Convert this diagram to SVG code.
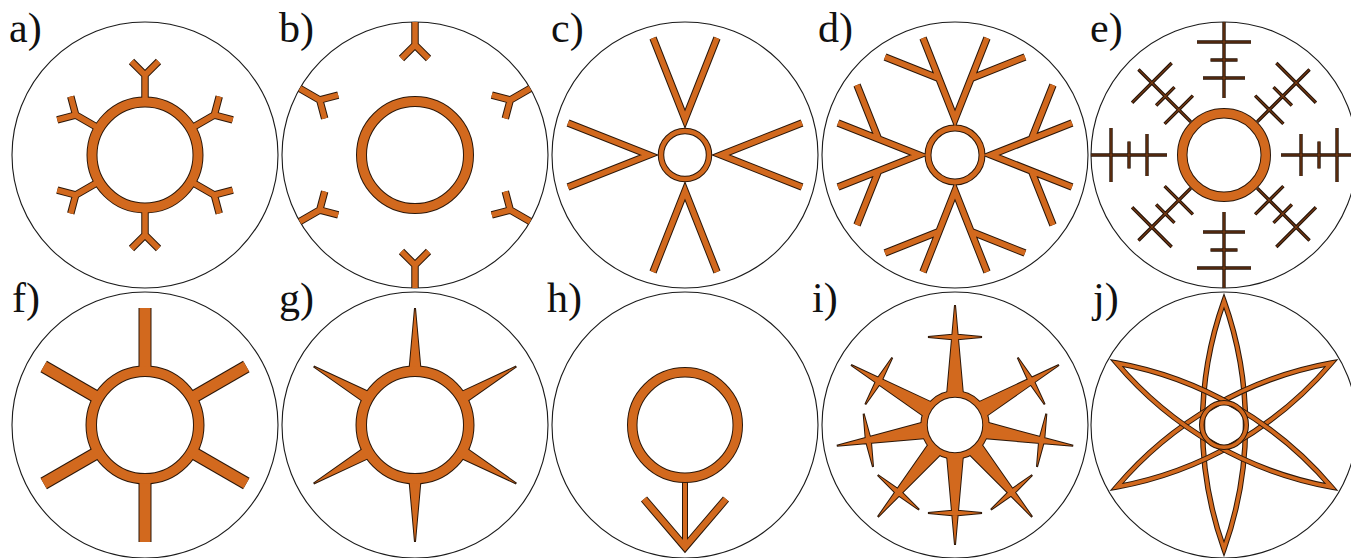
<svg xmlns="http://www.w3.org/2000/svg" xmlns:xlink="http://www.w3.org/1999/xlink" width="1351" height="558" viewBox="0 0 1351 558">
<style>
.frame{fill:none;stroke:#1a1a1a;stroke-width:1.1}
.dk{fill:none;stroke:#2b1709}
.og{fill:none;stroke:#D2691E}
.fdk{fill:#2b1709;stroke:#2b1709;stroke-width:2}
.fog{fill:#D2691E;stroke:none}
.edk{fill:none;stroke:#24140a;stroke-width:3.4}
.ebr{fill:none;stroke:#7b3b12;stroke-width:1.2}
.lbl{font-family:"Liberation Serif",serif;font-size:42px;fill:#111}
</style>
<defs>
<path id="aY" d="M0,-56 V-80 M-13.5,-93.5 L0,-80 L13.5,-93.5"/>
<g id="aYs"><use href="#aY"/><use href="#aY" transform="rotate(60)"/><use href="#aY" transform="rotate(120)"/><use href="#aY" transform="rotate(180)"/><use href="#aY" transform="rotate(240)"/><use href="#aY" transform="rotate(300)"/></g>
<path id="bY" d="M0,-133 V-110 M-13.5,-96.5 L0,-110 L13.5,-96.5"/>
<g id="bYs"><use href="#bY"/><use href="#bY" transform="rotate(60)"/><use href="#bY" transform="rotate(120)"/><use href="#bY" transform="rotate(180)"/><use href="#bY" transform="rotate(240)"/><use href="#bY" transform="rotate(300)"/></g>
<path id="cV" d="M-32,-117 L0,-36 L32,-117"/>
<g id="cVs"><use href="#cV"/><use href="#cV" transform="rotate(90)"/><use href="#cV" transform="rotate(180)"/><use href="#cV" transform="rotate(270)"/></g>
<path id="dV" d="M-32,-117 L0,-36 L32,-117 M-16,-76.5 L-70,-98 M16,-76.5 L70,-98"/>
<g id="dVs"><use href="#dV"/><use href="#dV" transform="rotate(90)"/><use href="#dV" transform="rotate(180)"/><use href="#dV" transform="rotate(270)"/></g>
<path id="eA" d="M0,-57 V-133 M-21,-77 H21 M-13.5,-95 H13.5 M-27,-113 H27"/>
<path id="eD" d="M0,-47 V-121 M-20,-64 H20 M-13,-83 H13 M-28,-102 H28"/>
<g id="eSs"><use href="#eA"/><use href="#eA" transform="rotate(90)"/><use href="#eA" transform="rotate(180)"/><use href="#eA" transform="rotate(270)"/><use href="#eD" transform="rotate(45)"/><use href="#eD" transform="rotate(135)"/><use href="#eD" transform="rotate(225)"/><use href="#eD" transform="rotate(315)"/></g>
<path id="fS" d="M0,-55 V-117"/>
<g id="fSs"><use href="#fS"/><use href="#fS" transform="rotate(60)"/><use href="#fS" transform="rotate(120)"/><use href="#fS" transform="rotate(180)"/><use href="#fS" transform="rotate(240)"/><use href="#fS" transform="rotate(300)"/></g>
<path id="gS" d="M-6,-50 L0,-117 L6,-50 Z"/>
<g id="gSs"><use href="#gS"/><use href="#gS" transform="rotate(60)"/><use href="#gS" transform="rotate(120)"/><use href="#gS" transform="rotate(180)"/><use href="#gS" transform="rotate(240)"/><use href="#gS" transform="rotate(300)"/></g>
<path id="iS" d="M-8,-30 L0,-120 L8,-30 Z M-27,-88 L0,-90.5 L27,-88 L0,-85.5 Z"/>
<g id="iSs"><use href="#iS"/><use href="#iS" transform="rotate(60)"/><use href="#iS" transform="rotate(100)"/><use href="#iS" transform="rotate(140)"/><use href="#iS" transform="rotate(180)"/><use href="#iS" transform="rotate(220)"/><use href="#iS" transform="rotate(260)"/><use href="#iS" transform="rotate(300)"/></g>
<path id="jL" d="M0,-124 A368,368 0 0 1 0,124 A368,368 0 0 1 0,-124 Z"/>
</defs>

<g id="frames">
<circle class="frame" cx="145" cy="155" r="133"/>
<circle class="frame" cx="415" cy="155" r="133"/>
<circle class="frame" cx="685" cy="155" r="133"/>
<circle class="frame" cx="955" cy="155" r="133"/>
<circle class="frame" cx="1224" cy="155" r="133"/>
<circle class="frame" cx="145" cy="425" r="133"/>
<circle class="frame" cx="415" cy="425" r="133"/>
<circle class="frame" cx="685" cy="425" r="133"/>
<circle class="frame" cx="955" cy="425" r="133"/>
<circle class="frame" cx="1224" cy="425" r="133"/>
</g>

<g id="node-a" transform="translate(145 155)">
<use href="#aYs" class="dk" stroke-width="7.5"/>
<circle r="53" class="dk" stroke-width="11"/>
<use href="#aYs" class="og" stroke-width="5.5"/>
<circle r="53" class="og" stroke-width="9"/>
</g>

<g id="node-b" transform="translate(415 155)">
<use href="#bYs" class="dk" stroke-width="7.5"/>
<use href="#bYs" class="og" stroke-width="5.5"/>
<circle r="53.5" class="dk" stroke-width="11"/>
<circle r="53.5" class="og" stroke-width="9"/>
</g>

<g id="node-c" transform="translate(685 155)">
<use href="#cVs" class="dk" stroke-width="7.5"/>
<circle r="24" class="dk" stroke-width="6.5"/>
<use href="#cVs" class="og" stroke-width="5.5"/>
<circle r="24" class="og" stroke-width="4.5"/>
</g>

<g id="node-d" transform="translate(955 155)">
<use href="#dVs" class="dk" stroke-width="7.5"/>
<circle r="27" class="dk" stroke-width="7"/>
<use href="#dVs" class="og" stroke-width="5.5"/>
<circle r="27" class="og" stroke-width="5"/>
</g>

<g id="node-e" transform="translate(1224 155)">
<use href="#eSs" class="edk"/>
<use href="#eSs" class="ebr"/>
<circle r="41.75" class="dk" stroke-width="10.5"/>
<circle r="41.75" class="og" stroke-width="8.5"/>
</g>

<g id="node-f" transform="translate(145 425)">
<use href="#fSs" class="dk" stroke-width="13"/>
<circle r="53.75" class="dk" stroke-width="11.5"/>
<use href="#fSs" class="og" stroke-width="11"/>
<circle r="53.75" class="og" stroke-width="9.5"/>
</g>

<g id="node-g" transform="translate(415 425)">
<use href="#gSs" class="fdk"/>
<circle r="53.75" class="dk" stroke-width="11.5"/>
<use href="#gSs" class="fog"/>
<circle r="53.75" class="og" stroke-width="9.5"/>
</g>

<g id="node-h" transform="translate(685 425)">
<path class="dk" stroke-width="6" d="M0,57 V118"/>
<path class="dk" stroke-width="8" d="M-41,74 L0,122 L41,74"/>
<path class="og" stroke-width="4" d="M0,57 V118"/>
<path class="og" stroke-width="6" d="M-41,74 L0,122 L41,74"/>
<circle r="52.75" class="dk" stroke-width="10.5"/>
<circle r="52.75" class="og" stroke-width="8.5"/>
</g>

<g id="node-i" transform="translate(955 425)">
<use href="#iSs" class="fdk"/>
<circle r="31" class="dk" stroke-width="7.5"/>
<use href="#iSs" class="fog"/>
<circle r="31" class="og" stroke-width="5.5"/>
</g>

<g id="node-j" transform="translate(1224 425)">
<use href="#jL" class="dk" stroke-width="5.5"/>
<use href="#jL" class="og" stroke-width="3.5"/>
<use href="#jL" class="dk" stroke-width="5.5" transform="rotate(60)"/>
<use href="#jL" class="og" stroke-width="3.5" transform="rotate(60)"/>
<use href="#jL" class="dk" stroke-width="5.5" transform="rotate(120)"/>
<use href="#jL" class="og" stroke-width="3.5" transform="rotate(120)"/>
<circle r="22.25" class="dk" stroke-width="5.5"/>
<circle r="22.25" class="og" stroke-width="3.5"/>
</g>

<g id="labels">
<text class="lbl" x="9" y="42">a)</text>
<text class="lbl" x="279" y="42">b)</text>
<text class="lbl" x="551" y="42">c)</text>
<text class="lbl" x="818" y="42">d)</text>
<text class="lbl" x="1090" y="42">e)</text>
<text class="lbl" x="12" y="312">f)</text>
<text class="lbl" x="279" y="312">g)</text>
<text class="lbl" x="547" y="312">h)</text>
<text class="lbl" x="812" y="312">i)</text>
<text class="lbl" x="1093" y="312">j)</text>
</g>
</svg>
